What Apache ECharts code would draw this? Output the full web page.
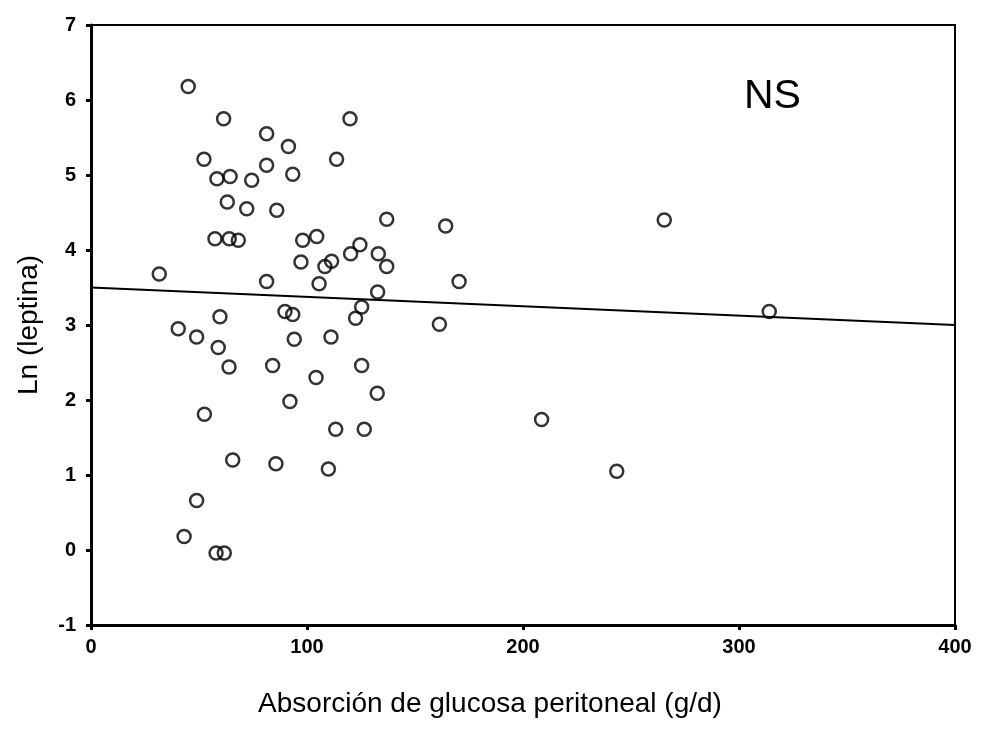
<!DOCTYPE html>
<html>
<head>
<meta charset="utf-8">
<script src="https://cdn.jsdelivr.net/npm/echarts@6/dist/echarts.min.js"></script>
<style>html,body{margin:0;padding:0;background:#fff;}#c{width:983px;height:742px;}</style>
</head>
<body>
<div id="c"></div>
<script>
const absorcion = [45.0,61.4,81.3,91.4,52.3,81.3,93.4,58.3,64.4,74.4,63.1,72.1,86.0,57.4,64.0,68.2,98.0,104.5,31.6,97.2,81.3,105.6,89.8,93.4,59.7,40.4,48.9,58.9,63.9,84.1,94.1,104.2,92.1,52.5,65.6,85.6,48.9,43.1,57.9,61.7,119.9,113.7,136.9,164.2,265.4,124.5,120.2,133.0,136.9,111.4,108.3,170.4,132.7,125.3,122.5,161.3,111.1,125.3,132.5,208.6,113.3,126.5,109.9,243.4,314.0];
const lnLeptina = [6.18,5.75,5.55,5.38,5.21,5.13,5.01,4.95,4.98,4.93,4.64,4.55,4.53,4.15,4.15,4.13,4.13,4.18,3.68,3.84,3.58,3.55,3.18,3.14,3.11,2.95,2.84,2.70,2.44,2.46,2.81,2.30,1.98,1.81,1.20,1.15,0.66,0.18,-0.04,-0.04,5.75,5.21,4.41,4.32,4.40,4.07,3.95,3.95,3.78,3.85,3.78,3.58,3.44,3.24,3.09,3.01,2.84,2.46,2.09,1.74,1.61,1.61,1.08,1.05,3.18];
const fitX = [0, 400];
const fitY = [3.5, 3.0];
const xTicks = [0, 100, 200, 300, 400];
const yTicks = [-1, 0, 1, 2, 3, 4, 5, 6, 7];
const annotation = "NS";
const xTitle = "Absorción de glucosa peritoneal (g/d)";
const yTitle = "Ln (leptina)";

const FONT = "Liberation Sans, Arial, sans-serif";
const chart = echarts.init(document.getElementById('c'), null, {renderer: 'canvas'});
chart.setOption({
  animation: false,
  backgroundColor: '#fff',
  grid: {left: 91, right: 28, top: 25, bottom: 117, show: true, borderColor: '#000', borderWidth: 2},
  xAxis: {
    type: 'value', min: xTicks[0], max: xTicks[xTicks.length-1], interval: 100,
    name: xTitle, nameLocation: 'middle', nameGap: 65,
    nameTextStyle: {fontFamily: FONT, fontSize: 28, color: '#000', padding: [0, 66, 0, 0]},
    axisLine: {show: true, onZero: false, lineStyle: {color: '#000', width: 3}},
    axisTick: {show: true, inside: false, length: 5, lineStyle: {color: '#000', width: 3}},
    axisLabel: {fontFamily: FONT, fontSize: 20, fontWeight: 'bold', color: '#000', margin: 12},
    splitLine: {show: false}
  },
  yAxis: {
    type: 'value', min: yTicks[0], max: yTicks[yTicks.length-1], interval: 1,
    name: yTitle, nameLocation: 'middle', nameGap: 48, nameRotate: 90,
    nameTextStyle: {fontFamily: FONT, fontSize: 28, color: '#000'},
    axisLine: {show: true, onZero: false, lineStyle: {color: '#000', width: 3}},
    axisTick: {show: true, inside: false, length: 5, lineStyle: {color: '#000', width: 3}},
    axisLabel: {fontFamily: FONT, fontSize: 20, fontWeight: 'bold', color: '#000', margin: 15},
    splitLine: {show: false}
  },
  graphic: [{
    type: 'text', x: 744, y: 97,
    style: {text: annotation, fontFamily: FONT, fontSize: 41, fill: '#000', textVerticalAlign: 'middle', verticalAlign: 'middle'}
  }],
  series: [
    {
      type: 'scatter',
      data: absorcion.map((x, i) => [x, lnLeptina[i]]),
      symbol: 'circle', symbolSize: 13,
      itemStyle: {color: 'rgba(255,255,255,0)', borderColor: '#000', borderWidth: 2.5},
      z: 3
    },
    {
      type: 'line',
      data: fitX.map((x, i) => [x, fitY[i]]),
      showSymbol: false, symbol: 'none',
      lineStyle: {color: '#000', width: 2},
      z: 2
    }
  ]
});
</script>
</body>
</html>
